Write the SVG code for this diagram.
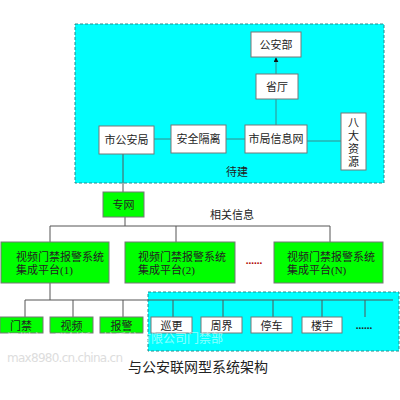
<svg xmlns="http://www.w3.org/2000/svg" width="400" height="400" viewBox="0 0 400 400">
<style>
text{font-family:"Liberation Serif","Noto Sans CJK SC",serif;font-size:11px;fill:#222;text-anchor:middle;dominant-baseline:central}
.st{text-anchor:start}
.zone{fill:#00FFFF;stroke:#2a8a8a;stroke-width:1;stroke-dasharray:3,2}
.wb{fill:#fff;stroke:#777;stroke-width:1}
.gb{fill:#00FF00;stroke:#777;stroke-width:1}
.ln{stroke:#555;stroke-width:1;fill:none}
.tl{stroke:#3a8a8a;stroke-width:1;fill:none}
text.dots{fill:#b00000;font-size:11px;font-weight:bold}
text.wm{fill:#fff;opacity:0.55;font-size:12px;text-anchor:start}
text.wm2{fill:#ddd;font-size:12px;text-anchor:start;font-family:"DejaVu Sans",sans-serif}
</style>
<defs>
<marker id="ah" viewBox="0 0 6 6" refX="5" refY="3" markerWidth="5" markerHeight="5" orient="auto"><path d="M0,0L6,3L0,6z" fill="#111"/></marker>
</defs>
<rect class="zone" x="75" y="24" width="309" height="159"/>
<rect class="zone" x="148" y="292" width="251" height="59"/>
<g id="connectors">
<path class="tl" d="M276,74V58" marker-end="url(#ah)"/>
<path class="tl" d="M276,99V125"/>
<path class="tl" d="M154,139H171M226,139H245M307,141H341"/>
<path class="ln" d="M123,154V192"/>
<path class="ln" d="M125,217V226M50,226H330M50,226V242M176,226V242M330,226V242"/>
<path class="ln" d="M50,283V300M25,300H393M25,300V317M73,300V317M123,300V317M173,300V317M223,300V317M273,300V317M322,300V317M365,300V317"/>
</g>
<g id="gonganbu"><rect class="wb" x="251" y="32" width="50" height="25"/><text x="276" y="45">公安部</text></g>
<g id="shengting"><rect class="wb" x="256" y="74" width="42" height="25"/><text x="277" y="87">省厅</text></g>
<g id="shigonganju"><rect class="wb" x="99" y="126" width="55" height="28"/><text x="126.5" y="140">市公安局</text></g>
<g id="anquangeli"><rect class="wb" x="171" y="125" width="55" height="28"/><text x="198.5" y="139">安全隔离</text></g>
<g id="shijuxinxiwang"><rect class="wb" x="245" y="125" width="62" height="28"/><text x="276" y="139">市局信息网</text></g>
<g id="badaziyuan"><rect class="wb" x="341" y="113" width="25" height="57"/>
<text x="353.5" y="123">八</text><text x="353.5" y="136">大</text><text x="353.5" y="149">资</text><text x="353.5" y="162">源</text></g>
<text x="237" y="172">待建</text>
<g id="zhuanwang"><rect class="gb" x="103" y="192" width="41" height="25"/><text x="123.5" y="205">专网</text></g>
<text x="232" y="215">相关信息</text>
<g id="platform1"><rect class="gb" x="1" y="242" width="108" height="41"/><text class="st" x="16" y="257">视频门禁报警系统</text><text class="st" x="16" y="270">集成平台(1)</text></g>
<g id="platform2"><rect class="gb" x="125" y="242" width="110" height="41"/><text class="st" x="138" y="257">视频门禁报警系统</text><text class="st" x="138" y="270">集成平台(2)</text></g>
<text class="dots" x="254" y="260">......</text>
<g id="platformN"><rect class="gb" x="274" y="242" width="109" height="41"/><text class="st" x="287" y="257">视频门禁报警系统</text><text class="st" x="287" y="270">集成平台(N)</text></g>
<g id="menjin"><rect class="gb" x="0" y="317" width="43" height="16"/><text x="21" y="326">门禁</text></g>
<g id="shipin"><rect class="gb" x="50" y="317" width="43" height="16"/><text x="71.5" y="326">视频</text></g>
<g id="baojing"><rect class="gb" x="100" y="317" width="43" height="16"/><text x="121.5" y="326">报警</text></g>
<g id="xungeng"><rect class="wb" x="151" y="317" width="41" height="16"/><text x="171.5" y="326">巡更</text></g>
<g id="zhoujie"><rect class="wb" x="201" y="317" width="41" height="16"/><text x="221.5" y="326">周界</text></g>
<g id="tingche"><rect class="wb" x="251" y="317" width="41" height="16"/><text x="271.5" y="326">停车</text></g>
<g id="louyu"><rect class="wb" x="302" y="317" width="40" height="16"/><text x="322" y="326">楼宇</text></g>
<text x="364" y="325" style="font-weight:bold">......</text>
<text class="wm" x="7" y="339" textLength="216">深圳市中联创新自控系统有限公司门禁部</text>
<text class="wm2" x="7" y="358" textLength="116">max8980.cn.china.cn</text>
<text x="198" y="367" style="font-size:14px">与公安联网型系统架构</text>
</svg>
